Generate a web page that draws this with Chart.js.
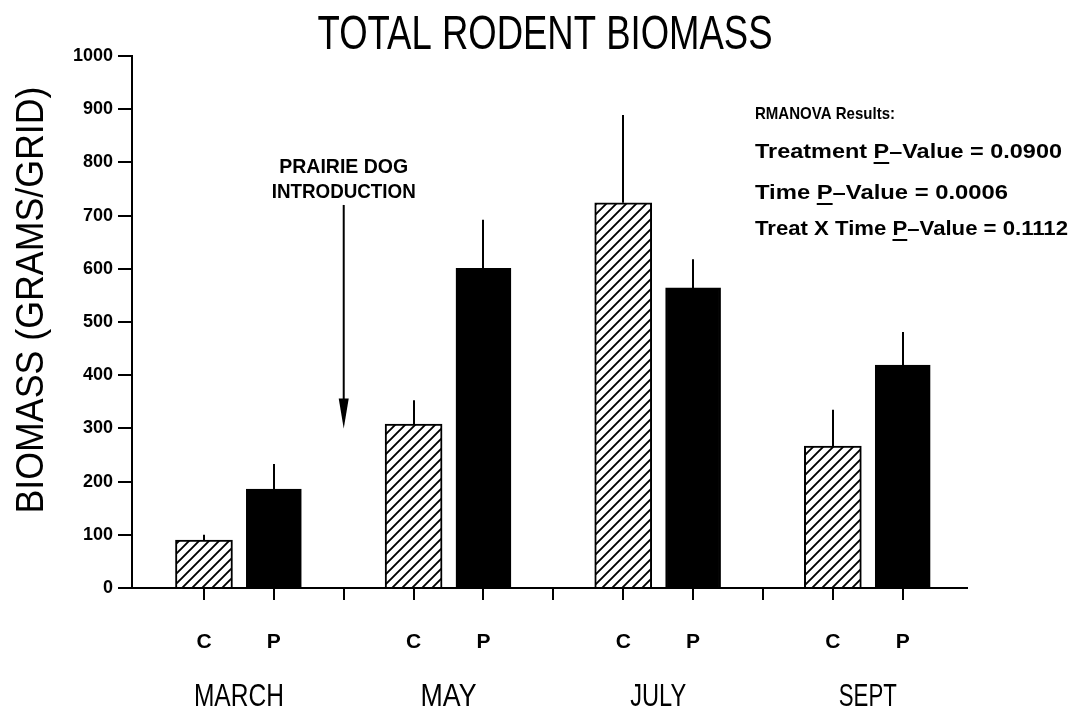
<!DOCTYPE html>
<html lang="en">
<head>
    <meta charset="UTF-8">
    <title>Total Rodent Biomass</title>
    <script src="https://cdn.jsdelivr.net/npm/chart.js"></script>
    <style>
        body { margin: 0; background: #fff; }
        #chart { display: block; }
    </style>
</head>
<body>
    <canvas id="chart" width="1080" height="708"></canvas>

    <script>
        // Dados
        const months = ['MARCH', 'MAY', 'JULY', 'SEPT'];
        const controlPos = [1, 4, 7, 10];
        const prairiePos = [2, 5, 8, 11];
        const gapPos = [3, 6, 9];
        const control = [90, 308, 724, 267];
        const controlSE = [10, 45, 165, 68];
        const prairie = [186, 601, 564, 419];
        const prairieSE = [47, 91, 54, 62];
        const yTicks = [0, 100, 200, 300, 400, 500, 600, 700, 800, 900, 1000];
        const anovaTitle = 'RMANOVA Results:';
        const anovaLines = [
            ['Treatment ', 'P', '\u2013Value = 0.0900'],
            ['Time ', 'P', '\u2013Value = 0.0006'],
            ['Treat X Time ', 'P', '\u2013Value = 0.1112']
        ];
        const arrowFrom = 720, arrowTo = 300;

        const FONT = '"Liberation Sans", Arial, sans-serif';

        // Padrão hachurado para as barras controle
        function makeHatch() {
            const c = document.createElement('canvas');
            c.width = 10; c.height = 10;
            const g = c.getContext('2d');
            g.fillStyle = '#fff';
            g.fillRect(0, 0, 10, 10);
            g.strokeStyle = '#000';
            g.lineWidth = 1.9;
            g.beginPath();
            g.moveTo(-2, 12); g.lineTo(12, -2);
            g.moveTo(-2, 2); g.lineTo(2, -2);
            g.moveTo(8, 12); g.lineTo(12, 8);
            g.stroke();
            return g.createPattern(c, 'repeat');
        }

        // Texto comprimido na horizontal até a largura desejada
        function fitText(ctx, text, x, y, font, width, align) {
            ctx.save();
            ctx.font = font;
            const s = width / ctx.measureText(text).width;
            ctx.translate(x, y);
            ctx.scale(s, 1);
            ctx.textAlign = align || 'left';
            ctx.textBaseline = 'alphabetic';
            ctx.fillText(text, 0, 0);
            ctx.restore();
            return s;
        }

        const decorations = {
            id: 'decorations',
            afterDatasetsDraw(chart) {
                const ctx = chart.ctx;
                const x = chart.scales.x, y = chart.scales.y;
                ctx.save();
                ctx.strokeStyle = '#000';
                ctx.lineWidth = 2;
                // barras de erro (só para cima)
                [[controlPos, control, controlSE], [prairiePos, prairie, prairieSE]].forEach(([pos, vals, se]) => {
                    pos.forEach((p, i) => {
                        const px = Math.round(x.getPixelForValue(p));
                        ctx.beginPath();
                        ctx.moveTo(px, y.getPixelForValue(vals[i]));
                        ctx.lineTo(px, y.getPixelForValue(vals[i] + se[i]));
                        ctx.stroke();
                    });
                });
                ctx.restore();
            },
            afterDraw(chart) {
                const ctx = chart.ctx;
                const x = chart.scales.x, y = chart.scales.y;
                ctx.save();
                ctx.fillStyle = '#000';
                ctx.strokeStyle = '#000';

                // título
                fitText(ctx, 'TOTAL RODENT BIOMASS', 545, 49, '48px ' + FONT, 455, 'center');

                // título do eixo y
                ctx.save();
                ctx.translate(43, 300);
                ctx.rotate(-Math.PI / 2);
                fitText(ctx, 'BIOMASS (GRAMS/GRID)', 0, 0, '39px ' + FONT, 427, 'center');
                ctx.restore();

                // meses
                const monthW = [90, 56, 56, 58];
                months.forEach((m, i) => {
                    const cx = x.getPixelForValue((controlPos[i] + prairiePos[i]) / 2);
                    fitText(ctx, m, cx, 706, '32px ' + FONT, monthW[i], 'center');
                });

                // seta da introdução
                const ax = x.getPixelForValue(gapPos[0]);
                const y0 = y.getPixelForValue(arrowFrom), y1 = y.getPixelForValue(arrowTo);
                ctx.lineWidth = 2;
                ctx.beginPath();
                ctx.moveTo(ax, y0);
                ctx.lineTo(ax, y1 - 26);
                ctx.stroke();
                ctx.beginPath();
                ctx.moveTo(ax - 5, y1 - 30);
                ctx.lineTo(ax + 5, y1 - 30);
                ctx.lineTo(ax, y1);
                ctx.closePath();
                ctx.fill();
                fitText(ctx, 'PRAIRIE DOG', ax, 173, 'bold 21px ' + FONT, 129, 'center');
                fitText(ctx, 'INTRODUCTION', ax, 198, 'bold 21px ' + FONT, 144, 'center');

                // resultados RMANOVA
                const lx = 755;
                fitText(ctx, anovaTitle, lx, 119, 'bold 17px ' + FONT, 140, 'left');
                const baselines = [158, 199, 235];
                const widths = [307, 253, 313];
                anovaLines.forEach((parts, i) => {
                    const full = parts.join('');
                    const f = 'bold 21px ' + FONT;
                    const s = fitText(ctx, full, lx, baselines[i], f, widths[i], 'left');
                    ctx.font = f;
                    const pre = ctx.measureText(parts[0]).width * s;
                    const pw = ctx.measureText(parts[1]).width * s;
                    ctx.fillRect(lx + pre, baselines[i] + 4, pw, 2);
                });
                ctx.restore();
            }
        };

        const hatch = makeHatch();

        new Chart(document.getElementById('chart'), {
            type: 'bar',
            data: {
                datasets: [
                    {
                        label: 'C',
                        data: controlPos.map((p, i) => ({ x: p, y: control[i] })),
                        backgroundColor: hatch,
                        borderColor: '#000',
                        borderWidth: 2,
                        barThickness: 57,
                        grouped: false
                    },
                    {
                        label: 'P',
                        data: prairiePos.map((p, i) => ({ x: p, y: prairie[i] })),
                        backgroundColor: '#000',
                        borderColor: '#000',
                        borderWidth: 2,
                        barThickness: 55,
                        grouped: false
                    }
                ]
            },
            options: {
                responsive: false,
                animation: false,
                devicePixelRatio: 1,
                layout: { padding: { top: 56, right: 113, left: 0, bottom: 0 } },
                plugins: {
                    legend: { display: false },
                    tooltip: { enabled: false },
                    title: { display: false }
                },
                scales: {
                    x: {
                        type: 'linear',
                        offset: false,
                        min: -0.03,
                        max: 11.92,
                        afterBuildTicks: (scale) => {
                            scale.ticks = controlPos.concat(prairiePos, gapPos).sort((a, b) => a - b).map(v => ({ value: v }));
                        },
                        afterFit: (scale) => { scale.height = 120; },
                        ticks: {
                            autoSkip: false,
                            maxRotation: 0,
                            padding: 30,
                            color: '#000',
                            font: { family: FONT, size: 21, weight: 'bold' },
                            callback: (v) => controlPos.includes(v) ? 'C' : (prairiePos.includes(v) ? 'P' : '')
                        },
                        grid: { offset: false, drawOnChartArea: false, drawTicks: true, tickLength: 12, color: '#000', lineWidth: 2 },
                        border: { display: true, color: '#000', width: 2 }
                    },
                    y: {
                        min: 0,
                        max: 1000,
                        afterBuildTicks: (scale) => { scale.ticks = yTicks.map(v => ({ value: v })); },
                        afterFit: (scale) => { scale.width = 132; },
                        ticks: {
                            padding: 5,
                            color: '#000',
                            font: { family: FONT, size: 18, weight: 'bold' },
                            callback: (v) => String(v)
                        },
                        grid: { drawOnChartArea: false, drawTicks: true, tickLength: 14, color: '#000', lineWidth: 2 },
                        border: { display: true, color: '#000', width: 2 }
                    }
                }
            },
            plugins: [decorations]
        });
    </script>
</body>
</html>
